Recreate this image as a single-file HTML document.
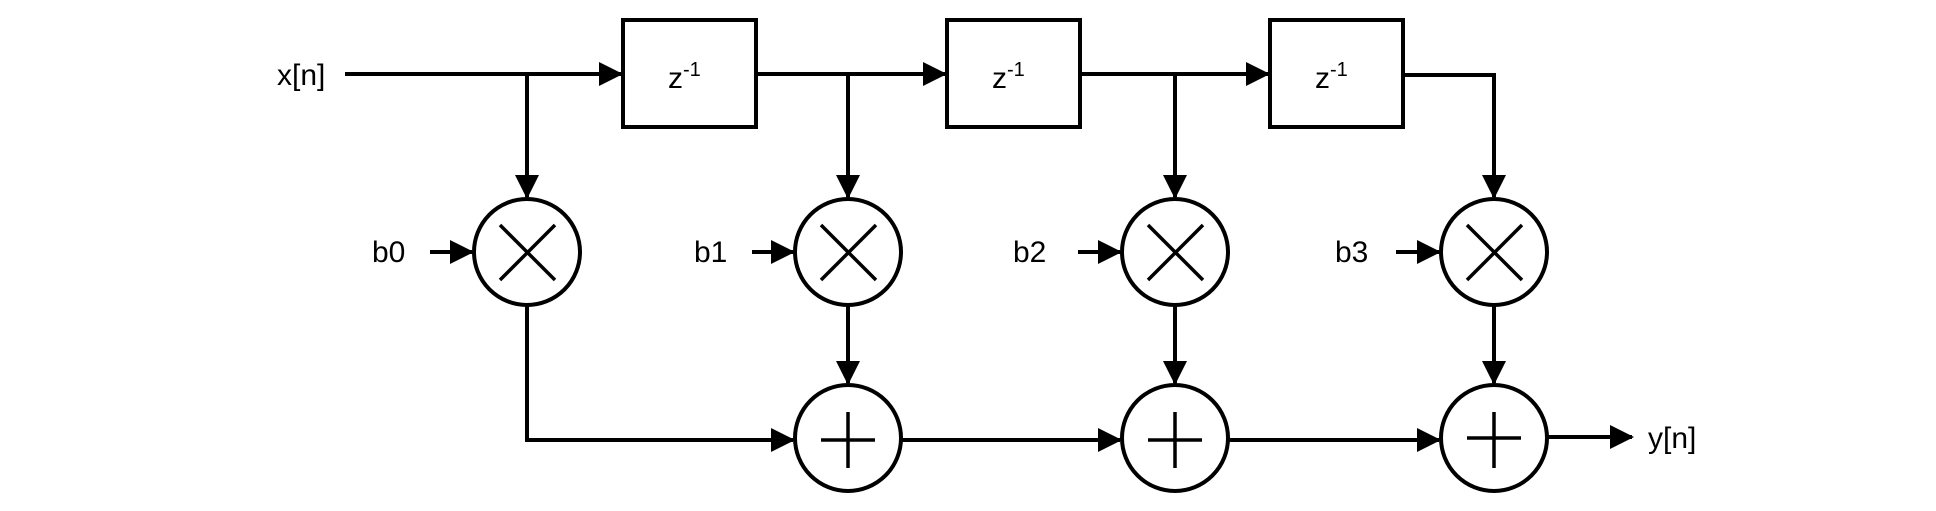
<!DOCTYPE html>
<html><head><style>body{margin:0;background:#fff}svg{display:block}</style></head><body>
<svg width="1936" height="511" viewBox="0 0 1936 511" xmlns="http://www.w3.org/2000/svg" font-family="Liberation Sans, sans-serif">
<defs><marker id="a" markerWidth="6" markerHeight="6" refX="5.5" refY="3" orient="auto" markerUnits="strokeWidth"><path d="M0,0 L6,3 L0,6 Z" fill="#000"/></marker></defs>
<g stroke="#000" stroke-width="4" fill="none">
<rect x="623" y="20" width="133" height="107" fill="#fff"/>
<rect x="947" y="20" width="133" height="107" fill="#fff"/>
<rect x="1270" y="20" width="133" height="107" fill="#fff"/>
<line x1="345" y1="74" x2="621" y2="74" marker-end="url(#a)"/>
<line x1="756" y1="74" x2="945" y2="74" marker-end="url(#a)"/>
<line x1="1080" y1="74" x2="1268" y2="74" marker-end="url(#a)"/>
<polyline points="1403,75 1494,75 1494,197" marker-end="url(#a)"/>
<line x1="527" y1="74" x2="527" y2="197" marker-end="url(#a)"/>
<line x1="848" y1="74" x2="848" y2="197" marker-end="url(#a)"/>
<line x1="1175" y1="74" x2="1175" y2="197" marker-end="url(#a)"/>
<circle cx="527" cy="252" r="53"/><circle cx="848" cy="252" r="53"/><circle cx="1175" cy="252" r="53"/><circle cx="1494" cy="252" r="53"/>
<circle cx="848" cy="438" r="53"/><circle cx="1175" cy="438" r="53"/><circle cx="1494" cy="438" r="53"/>
<line x1="430" y1="252" x2="472" y2="252" marker-end="url(#a)"/>
<line x1="752" y1="252" x2="793" y2="252" marker-end="url(#a)"/>
<line x1="1078" y1="252" x2="1120" y2="252" marker-end="url(#a)"/>
<line x1="1396" y1="252" x2="1439" y2="252" marker-end="url(#a)"/>
<polyline points="527,305 527,440 793,440" marker-end="url(#a)"/>
<line x1="848" y1="305" x2="848" y2="383" marker-end="url(#a)"/>
<line x1="1175" y1="305" x2="1175" y2="383" marker-end="url(#a)"/>
<line x1="1494" y1="305" x2="1494" y2="383" marker-end="url(#a)"/>
<line x1="901" y1="440" x2="1120" y2="440" marker-end="url(#a)"/>
<line x1="1228" y1="440" x2="1439" y2="440" marker-end="url(#a)"/>
<line x1="1547" y1="437" x2="1632" y2="437" marker-end="url(#a)"/>
<g stroke-width="3.5">
<path d="M500,225 L555,280 M555,225 L500,280"/>
<path d="M821,225 L876,280 M876,225 L821,280"/>
<path d="M1148,225 L1203,280 M1203,225 L1148,280"/>
<path d="M1467,225 L1522,280 M1522,225 L1467,280"/>
<path d="M848,412 L848,468 M821,440 L875,440"/>
<path d="M1175,412 L1175,468 M1148,440 L1202,440"/>
<path d="M1494,412 L1494,468 M1467,438 L1521,438"/>
</g>
</g>
<g font-size="30" fill="#000">
<text x="277" y="85">x[n]</text>
<text x="372" y="262">b0</text>
<text x="694" y="262">b1</text>
<text x="1013" y="262">b2</text>
<text x="1335" y="262">b3</text>
<text x="1648" y="448">y[n]</text>
<text x="668" y="88">z<tspan font-size="20" dy="-12">-1</tspan></text>
<text x="992" y="88">z<tspan font-size="20" dy="-12">-1</tspan></text>
<text x="1315" y="88">z<tspan font-size="20" dy="-12">-1</tspan></text>
</g>
</svg>
</body></html>
